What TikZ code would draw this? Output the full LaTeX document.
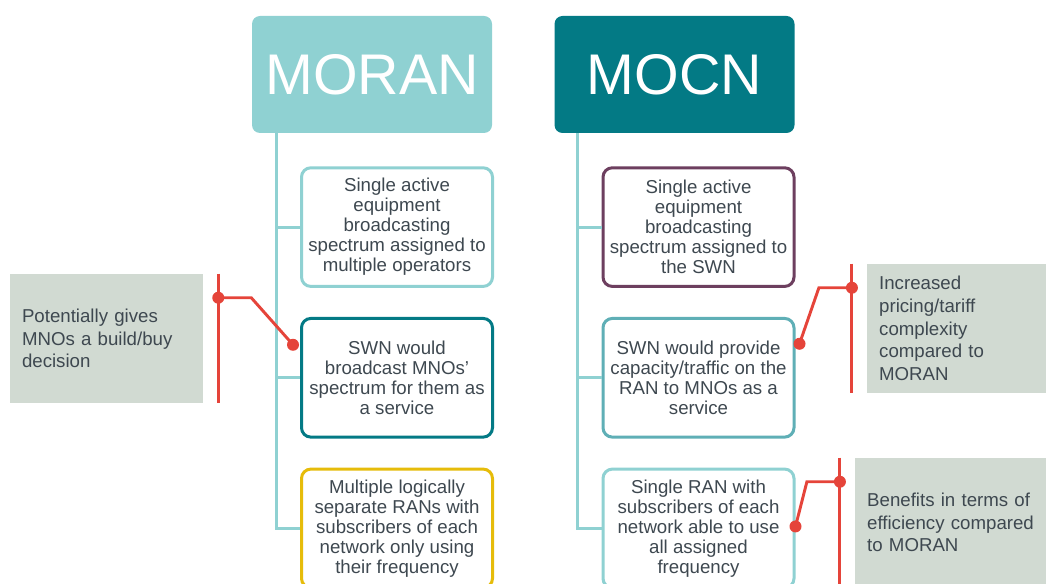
\documentclass[tikz,border=0pt]{standalone}
\usepackage{fontspec}
\setmainfont{Liberation Sans}
\usepackage{tikz}
\usetikzlibrary{positioning}
\definecolor{moranc}{HTML}{8FD1D2}
\definecolor{mocnc}{HTML}{037A85}
\definecolor{plumc}{HTML}{6D3F5F}
\definecolor{midtc}{HTML}{5FAFB6}
\definecolor{yelc}{HTML}{E6BC0A}
\definecolor{redc}{HTML}{E5443A}
\definecolor{notec}{HTML}{D1DAD2}
\definecolor{txtc}{HTML}{3E4850}
\tikzset{
  hdr/.style={rounded corners=6pt, text=white, inner sep=0pt,
              font=\fontsize{43}{46}\selectfont,
              minimum width=180pt, minimum height=87.75pt},
  obox/.style={draw, line width=2.25pt, rounded corners=7pt, fill=white,
               align=center, text=txtc, font=\fontsize{14}{15}\selectfont,
               minimum width=143.25pt, minimum height=89pt, inner sep=2pt},
  note/.style={fill=notec, align=left, text=txtc, inner xsep=9pt,
               font=\fontsize{14}{17}\selectfont, minimum height=96.75pt},
  trunk/.style={draw=moranc, line width=2.25pt},
  redln/.style={draw=redc, line width=2.2pt},
  rdot/.style={circle, fill=redc, inner sep=0pt, minimum size=9pt},
}

\begin{document}
\begin{tikzpicture}[x=0.75pt, y=-0.75pt, node distance=21.75pt]
  \clip (0,0) rectangle (1046,584);

  % headers
  \node[hdr, fill=moranc] (moran) at (372,74.5) {MORAN};
  \node[hdr, fill=mocnc] (mocn) at (674.5,74.5) {MOCN};

  % MORAN column
  \node[obox, draw=moranc, below=24.75pt of moran, xshift=18.75pt] (m1)
    {Single active\\equipment\\broadcasting\\spectrum assigned to\\multiple operators};
  \node[obox, draw=mocnc, below=of m1] (m2)
    {SWN would\\broadcast MNOs'\\spectrum for them as\\a service};
  \node[obox, draw=yelc, below=of m2] (m3)
    {Multiple logically\\separate RANs with\\subscribers of each\\network only using\\their frequency};

  % MOCN column
  \node[obox, draw=plumc, below=24.75pt of mocn, xshift=18pt] (n1)
    {Single active\\equipment\\broadcasting\\spectrum assigned to\\the SWN};
  \node[obox, draw=midtc, below=of n1] (n2)
    {SWN would provide\\capacity/traffic on the\\RAN to MNOs as a\\service};
  \node[obox, draw=moranc, below=of n2] (n3)
    {Single RAN with\\subscribers of each\\network able to use\\all assigned\\frequency};

  % trunks
  \draw[trunk] ([xshift=-18pt]m1.west |- moran.south) |- (m3.west);
  \draw[trunk] ([xshift=-18pt]m1.west) -- (m1.west);
  \draw[trunk] ([xshift=-18pt]m2.west) -- (m2.west);
  \draw[trunk] ([xshift=-18pt]n1.west |- mocn.south) |- (n3.west);
  \draw[trunk] ([xshift=-18pt]n1.west) -- (n1.west);
  \draw[trunk] ([xshift=-18pt]n2.west) -- (n2.west);

  % notes
  \node[note, text width=126.75pt] (nl) at (106.5,338.5)
    {Potentially gives\\MNOs a build/buy\\decision};
  \node[note, text width=119pt] (nr1) at (958.5,328.5)
    {Increased\\pricing/tariff\\complexity\\compared to\\MORAN};
  \node[note, text width=128pt] (nr2) at (952.5,522.5)
    {Benefits in terms of\\efficiency compared\\to MORAN};

  % callout lines
  \draw[redln] ([xshift=11.25pt]nl.north east) -- ([xshift=11.25pt]nl.south east);
  \node[rdot] (dl1) at ([xshift=11.25pt,yshift=-18pt]nl.north east) {};
  \node[rdot] (dl2) at ([xshift=-5.25pt,yshift=24.75pt]m2.west) {};
  \draw[redln] (dl1.center) -- ++(24.75pt,0) -- (dl2.center);

  \draw[redln] ([xshift=-11.25pt]nr1.north west) -- ([xshift=-11.25pt]nr1.south west);
  \node[rdot] (dr1) at ([xshift=-11.25pt,yshift=-18pt]nr1.north west) {};
  \node[rdot] (dr2) at ([xshift=3pt,yshift=25.5pt]n2.east) {};
  \draw[redln] (dr1.center) -- ++(-24.75pt,0) -- (dr2.center);

  \draw[redln] ([xshift=-11.25pt]nr2.north west) -- ([xshift=-11.25pt]nr2.south west);
  \node[rdot] (dr3) at ([xshift=-11.25pt,yshift=-18pt]nr2.north west) {};
  \node[rdot] (dr4) at ([yshift=1.5pt]n3.east) {};
  \draw[redln] (dr3.center) -- ++(-24.75pt,0) -- (dr4.center);
\end{tikzpicture}
\end{document}
